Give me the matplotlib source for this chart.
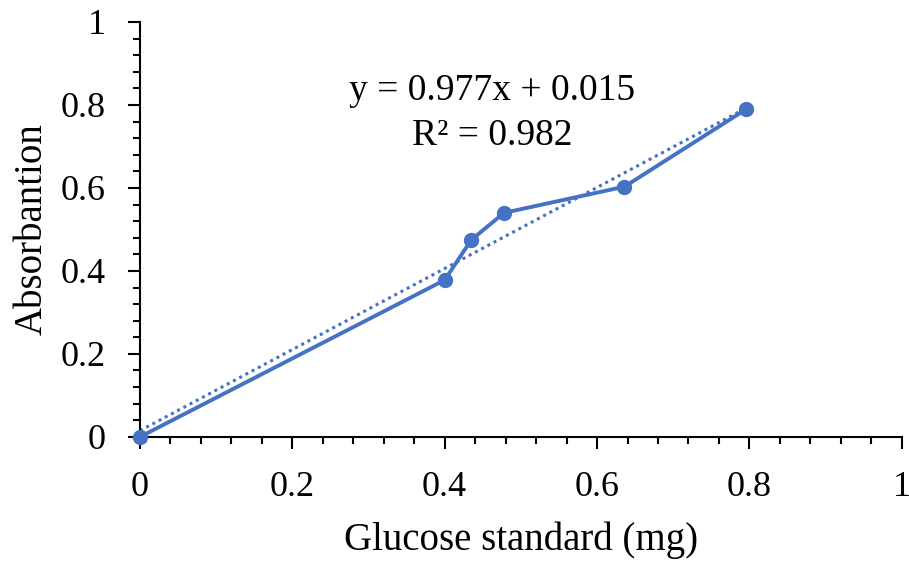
import matplotlib
matplotlib.use('Agg')
import matplotlib.pyplot as plt
import numpy as np
from matplotlib.ticker import MultipleLocator

# data
glucose_mg = [0.0, 0.4, 0.435, 0.478, 0.636, 0.796]
absorbance = [0.0, 0.378, 0.475, 0.54, 0.603, 0.79]
slope = 0.977
intercept = 0.015
r_squared = 0.982

blue = '#4472C4'
plt.rcParams['font.family'] = ['Liberation Serif', 'DejaVu Serif']

fig = plt.figure(figsize=(9.09, 5.63), dpi=100)
ax = fig.add_axes([0.154, 0.224, 0.838, 0.737])

ax.plot(glucose_mg, absorbance, color=blue, lw=2.8, marker='o', ms=10,
        clip_on=False, zorder=3)

# linear trendline (dotted)
xt = np.array([0.0, max(glucose_mg)])
ax.plot(xt, slope * xt + intercept, color=blue, lw=2.2, ls=(0, (1, 1.3)),
        zorder=2)

ax.text(0.462, 0.834, f'y = {slope}x + {intercept}', ha='center', va='center',
        fontsize=27)
ax.text(0.462, 0.725, f'R² = {r_squared}', ha='center', va='center',
        fontsize=27)

ax.set_xlim(0, 1)
ax.set_ylim(0, 1)
ax.xaxis.set_major_locator(MultipleLocator(0.2))
ax.yaxis.set_major_locator(MultipleLocator(0.2))
ax.xaxis.set_minor_locator(MultipleLocator(0.04))
ax.yaxis.set_minor_locator(MultipleLocator(0.04))
ax.xaxis.set_major_formatter(lambda v, p: f'{v:g}')
ax.yaxis.set_major_formatter(lambda v, p: f'{v:g}')

for s in ['top', 'right']:
    ax.spines[s].set_visible(False)
for s in ['left', 'bottom']:
    ax.spines[s].set_linewidth(1.5)

ax.tick_params(which='major', length=8.5, width=1.5, labelsize=26, pad=16)
ax.tick_params(which='minor', length=5, width=1.5)
ax.tick_params(axis='y', which='major', pad=16)

ax.set_xlabel('Glucose standard (mg)', fontsize=28, labelpad=13)
ax.set_ylabel('Absorbantion', fontsize=28)
ax.yaxis.set_label_coords(-0.117, 0.5)

fig.savefig('out.png', dpi=100)
